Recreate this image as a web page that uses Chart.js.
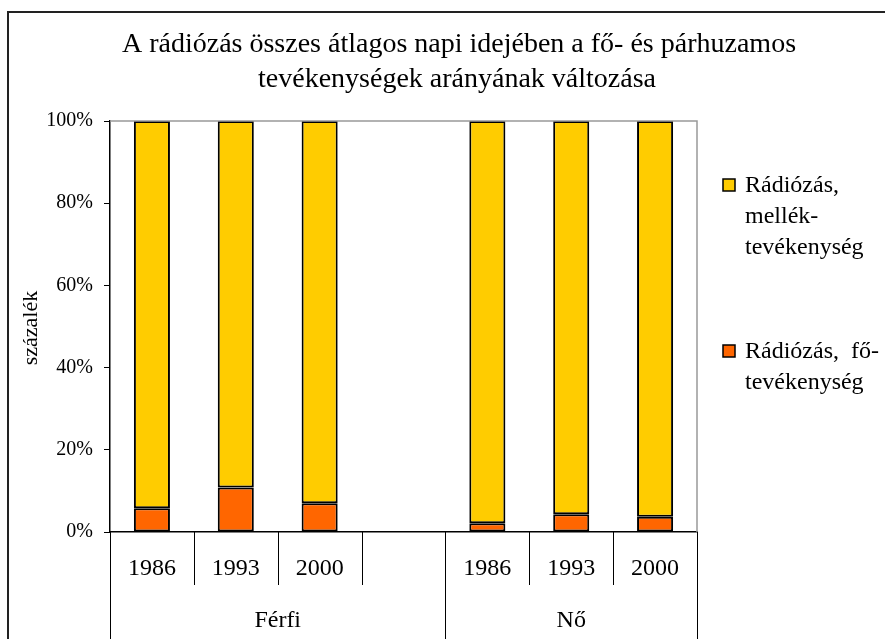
<!DOCTYPE html>
<html>
<head>
<meta charset="utf-8">
<script src="https://cdn.jsdelivr.net/npm/chart.js@4.4.1/dist/chart.umd.min.js"></script>
<style>
  html, body { margin: 0; padding: 0; background: #fff; }
  #wrap { width: 885px; height: 639px; position: relative; }
</style>
</head>
<body>
<div id="wrap"><canvas id="myChart"></canvas></div>
<script>
const years = ['1986', '1993', '2000', '', '1986', '1993', '2000'];
const groups = ['Férfi', 'Nő'];
const groupRanges = [[0, 3], [4, 6]];
const foTev = [5.8, 10.8, 7.0, null, 2.1, 4.3, 3.7];       // Rádiózás, fő-tevékenység
const mellekTev = [94.2, 89.2, 93.0, null, 97.9, 95.7, 96.3]; // Rádiózás, mellék-tevékenység
const yTicks = [0, 20, 40, 60, 80, 100];

const titleLines = ['A rádiózás összes átlagos napi idejében a fő- és párhuzamos',
                    'tevékenységek arányának változása'];
const legendItems = [
    { lines: ['Rádiózás,', 'mellék-', 'tevékenység'], color: '#FFCC00' },
    { lines: ['Rádiózás,  fő-', 'tevékenység'], color: '#FF6600' }
];

const SERIF = '"Liberation Serif", "Times New Roman", serif';

const decor = {
    id: 'decor',
    afterDraw(chart) {
        const ctx = chart.ctx;
        const area = chart.chartArea;
        const x = chart.scales.x;
        ctx.save();

        // outer frame (cropped on right and bottom)
        ctx.strokeStyle = '#222';
        ctx.lineWidth = 2;
        ctx.beginPath();
        ctx.moveTo(8, 639);
        ctx.lineTo(8, 12);
        ctx.lineTo(885, 12);
        ctx.stroke();

        // plot area border top/right
        ctx.strokeStyle = '#999';
        ctx.lineWidth = 1.5;
        ctx.beginPath();
        ctx.moveTo(area.left, area.top);
        ctx.lineTo(area.right, area.top);
        ctx.lineTo(area.right, area.bottom);
        ctx.stroke();

        // title
        ctx.fillStyle = '#000';
        ctx.font = '28px ' + SERIF;
        ctx.textAlign = 'center';
        ctx.textBaseline = 'alphabetic';
        ctx.fillText(titleLines[0], 459, 52);
        ctx.fillText(titleLines[1], 457, 87);

        // y title
        ctx.save();
        ctx.translate(31, 328);
        ctx.rotate(-Math.PI / 2);
        ctx.font = '22px ' + SERIF;
        ctx.textBaseline = 'middle';
        ctx.fillText('százalék', 0, 0);
        ctx.restore();

        // category separators
        const half = (x.getPixelForValue(1) - x.getPixelForValue(0)) / 2;
        const groupEdges = new Set();
        groupRanges.forEach(r => { groupEdges.add(r[0]); groupEdges.add(r[1] + 1); });
        ctx.strokeStyle = '#000';
        ctx.lineWidth = 1;
        for (let i = 0; i <= years.length; i++) {
            const px = Math.round(x.getPixelForValue(i) - half) + 0.5;
            const bottom = groupEdges.has(i) ? 639 : 585;
            ctx.beginPath();
            ctx.moveTo(px, area.bottom);
            ctx.lineTo(px, bottom);
            ctx.stroke();
        }

        // group labels
        ctx.font = '24px ' + SERIF;
        ctx.textAlign = 'center';
        ctx.textBaseline = 'middle';
        groupRanges.forEach((r, gi) => {
            const cx = (x.getPixelForValue(r[0]) + x.getPixelForValue(r[1])) / 2;
            ctx.fillText(groups[gi], cx, 621);
        });

        // legend
        ctx.font = '24px ' + SERIF;
        ctx.textAlign = 'left';
        ctx.textBaseline = 'alphabetic';
        const starts = [192, 358];
        legendItems.forEach((item, i) => {
            const by = starts[i];
            ctx.fillStyle = item.color;
            ctx.fillRect(723, by - 13, 12, 12);
            ctx.strokeStyle = '#000';
            ctx.lineWidth = 1.5;
            ctx.strokeRect(723, by - 13, 12, 12);
            ctx.fillStyle = '#000';
            item.lines.forEach((ln, j) => ctx.fillText(ln, 745, by + j * 31));
        });

        ctx.restore();
    }
};

const ctx = document.getElementById('myChart').getContext('2d');
new Chart(ctx, {
    type: 'bar',
    data: {
        labels: years,
        datasets: [
            {
                label: 'Rádiózás, fő-tevékenység',
                data: foTev,
                backgroundColor: '#FF6600',
                borderColor: '#000',
                borderWidth: 2,
                borderSkipped: false,
                barPercentage: 0.43,
                categoryPercentage: 1
            },
            {
                label: 'Rádiózás, mellék-tevékenység',
                data: mellekTev,
                backgroundColor: '#FFCC00',
                borderColor: '#000',
                borderWidth: 2,
                borderSkipped: false,
                barPercentage: 0.43,
                categoryPercentage: 1
            }
        ]
    },
    options: {
        responsive: true,
        maintainAspectRatio: false,
        animation: false,
        layout: { padding: { top: 121, right: 188, left: 0, bottom: 0 } },
        plugins: {
            legend: { display: false },
            title: { display: false },
            tooltip: { enabled: false }
        },
        scales: {
            x: {
                stacked: true,
                grid: { display: false, drawTicks: false },
                border: { display: true, color: '#000', width: 1.5 },
                ticks: {
                    color: '#000',
                    font: { family: SERIF, size: 24 },
                    padding: 22,
                    maxRotation: 0,
                    autoSkip: false
                },
                afterFit(scale) { scale.height = 107; }
            },
            y: {
                stacked: true,
                min: 0,
                max: 100,
                afterBuildTicks(scale) { scale.ticks = yTicks.map(v => ({ value: v })); },
                grid: { drawOnChartArea: false, tickLength: 6, color: '#000' },
                border: { display: true, color: '#000', width: 1.5 },
                ticks: {
                    color: '#000',
                    font: { family: SERIF, size: 20 },
                    padding: 11,
                    callback: v => v + '%'
                },
                afterFit(scale) { scale.width = 110; }
            }
        }
    },
    plugins: [decor]
});
</script>
</body>
</html>
